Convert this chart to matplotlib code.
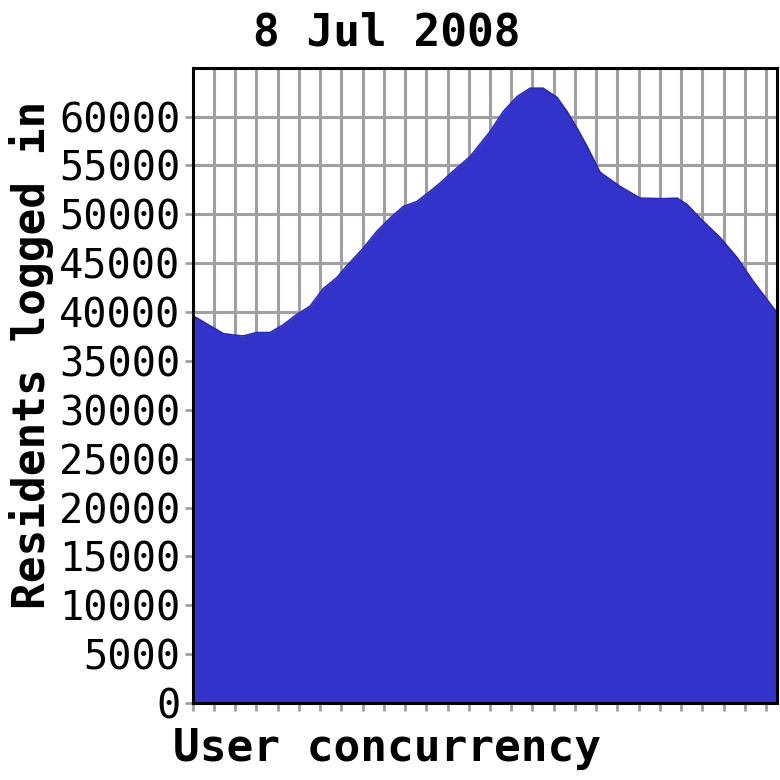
import matplotlib
matplotlib.use("Agg")
import matplotlib.pyplot as plt

TITLE = "8 Jul 2008"
XLABEL = "User concurrency"
YLABEL = "Residents logged in"

# x in tick units (28 unlabeled ticks), y = residents logged in
hours = [0.0, 0.19, 0.81, 1.44, 1.91, 2.38, 3.01, 3.64, 4.27, 4.90,
         5.53, 6.15, 6.78, 7.25, 8.04, 8.67, 9.29, 9.92, 10.55, 11.18,
         11.65, 12.26, 13.06, 14.0, 14.62, 15.28, 15.89, 16.50, 17.16, 17.63,
         18.10, 18.57, 19.18, 20.12, 21.07, 22.15, 22.81, 23.28, 23.89, 24.84,
         25.64, 26.39, 27.33, 27.5]
residents = [39600, 39400, 38600, 37800, 37650, 37550, 37900, 37900, 38700, 39750,
             40600, 42400, 43500, 44700, 46550, 48250, 49600, 50800, 51300, 52350,
             53200, 54400, 55900, 58450, 60500, 62050, 62900, 62900, 61950, 60500,
             58800, 56950, 54300, 52850, 51650, 51600, 51650, 51000, 49600, 47600,
             45550, 43150, 40450, 40000]

x_ticks = list(range(28))
y_ticks = list(range(0, 65000, 5000))

fig = plt.figure(figsize=(7.8, 7.8), dpi=100)
ax = fig.add_axes([0.247, 0.0987, 0.7488, 0.8145])

ax.fill_between(hours, residents, 0, color="#3333cc", linewidth=0, zorder=3)
ax.plot(hours, residents, color="#2828b4", linewidth=1.2, zorder=4)

ax.set_xlim(0, 27.5)
ax.set_ylim(0, 65000)
ax.set_xticks(x_ticks)
ax.set_xticklabels([])
ax.set_yticks(y_ticks)
ax.set_yticklabels([str(v) for v in y_ticks], family="DejaVu Sans Mono",
                   fontsize=29)

ax.grid(True, color="#a0a0a0", linewidth=2.2, zorder=1)
ax.set_axisbelow(True)
ax.tick_params(axis="both", color="#a0a0a0", width=2, length=6, pad=3)

for side in ["top", "left", "bottom", "right"]:
    ax.spines[side].set_linewidth(2.2)
    ax.spines[side].set_color("black")
    ax.spines[side].set_zorder(5)

fig.text(0.496, 0.958, TITLE, ha="center", va="center",
         family="DejaVu Sans Mono", fontweight="bold", fontsize=32)
fig.text(0.496, 0.04, XLABEL, ha="center", va="center",
         family="DejaVu Sans Mono", fontweight="bold", fontsize=32)
fig.text(0.041, 0.545, YLABEL, ha="center", va="center", rotation=90,
         family="DejaVu Sans Mono", fontweight="bold", fontsize=32)

fig.savefig("out.png", dpi=100)
